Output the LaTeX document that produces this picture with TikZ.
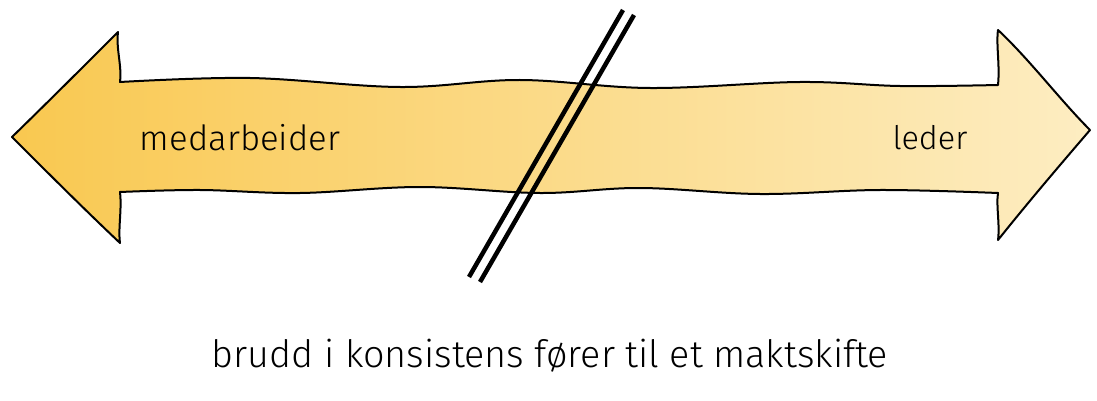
\documentclass[tikz,border=0pt]{standalone}
\usepackage{fontspec}
\newfontfamily\hand{Fira Sans Light}
\definecolor{arrowL}{HTML}{F9C850}
\definecolor{arrowR}{HTML}{FDEDC2}
\begin{document}
\begin{tikzpicture}[x=1pt,y=-1pt,
  outline/.style={draw=black,line width=2pt,line join=round},
  slash/.style={draw=black,line width=4.5pt},
  lbl/.style={inner sep=0pt,font=\hand}]
\useasboundingbox[fill=white] (0,0) rectangle (1097,401);
\shade[left color=arrowL,right color=arrowR,outline]
  (12,137) .. controls (50,100) and (90,60) .. (118,32)
  .. controls (116,50) and (122,65) .. (120,82)
  -- plot[smooth,tension=0.6] coordinates {(120,82) (250,78) (400,87) (520,80) (650,88) (800,82) (900,86) (998,85)}
  .. controls (1000,65) and (996,45) .. (998,30)
  .. controls (1030,60) and (1060,100) .. (1090,130)
  .. controls (1060,165) and (1030,200) .. (998,240)
  .. controls (1000,225) and (996,205) .. (998,193)
  -- plot[smooth,tension=0.6] coordinates {(998,193) (880,190) (760,194) (640,188) (540,193) (420,187) (300,193) (200,190) (120,192)}
  .. controls (122,210) and (118,228) .. (120,243)
  .. controls (85,210) and (45,170) .. cycle;
\coordinate (s1a) at (623,10);
\coordinate (s1b) at (469,277);
\coordinate (s2a) at (634,15);
\coordinate (s2b) at (480,282);
\draw[slash] (s1a) -- (s1b);
\draw[slash] (s2a) -- (s2b);
\node[lbl] (med) at (240,138) {\resizebox{200pt}{!}{medarbeider}};
\node[lbl] (led) at (930,138) {\resizebox{75pt}{!}{leder}};
\node[lbl] (cap) at (550,356) {\resizebox{676pt}{!}{brudd i konsistens fører til et maktskifte}};
\end{tikzpicture}
\end{document}
